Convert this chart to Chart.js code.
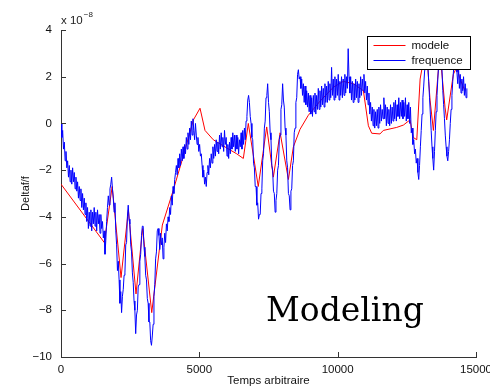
<!DOCTYPE html>
<html>
<head>
<meta charset="utf-8">
<script src="https://cdn.jsdelivr.net/npm/chart.js@4"></script>
<style>
html, body { margin: 0; padding: 0; background: #fff; }
</style>
</head>
<body>
<canvas id="mychart" width="490" height="388"></canvas>
<script>
// time step of the measured series (arbitrary units)
var tStep = 30;

// measured "frequence" series, x 1e-8, one value every tStep (10 per row = 300 units)
var frequence = [
  0.0, -0.6, -0.3, -1.1, -0.8, -1.6, -1.2, -1.9, -1.6, -2.3,
  -1.8, -2.5, -2.0, -2.6, -1.9, -2.5, -2.1, -2.8, -2.3, -2.9,
  -2.5, -3.2, -2.7, -3.3, -2.8, -3.6, -3.0, -3.7, -3.2, -3.9,
  -3.4, -4.2, -3.6, -4.5, -3.8, -4.4, -3.7, -4.6, -3.8, -4.3,
  -3.6, -4.4, -3.8, -4.6, -3.7, -4.3, -3.9, -4.7, -3.9, -4.5,
  -4.2, -4.9, -4.6, -5.6, -5.0, -4.2, -3.6, -3.1, -3.5, -2.8,
  -2.6, -2.3, -2.8, -3.2, -3.8, -3.4, -4.6, -5.2, -6.3, -5.9,
  -6.7, -7.7, -7.2, -8.1, -7.4, -7.1, -6.5, -6.4, -5.2, -5.1,
  -4.0, -3.5, -4.1, -4.3, -5.2, -5.5, -6.4, -6.8, -7.6, -8.0,
  -9.0, -8.2, -8.0, -7.0, -6.9, -5.9, -5.6, -4.8, -4.4, -4.4,
  -5.3, -5.7, -6.5, -6.7, -7.5, -7.7, -8.5, -8.5, -9.3, -9.5,
  -9.1, -8.6, -7.4, -6.9, -5.8, -5.5, -4.6, -4.5, -4.8, -5.4,
  -4.7, -5.2, -4.9, -5.8, -5.3, -4.7, -5.1, -4.3, -4.6, -4.0,
  -4.2, -3.6, -3.9, -3.1, -3.5, -2.7, -3.0, -2.4, -2.1, -1.8,
  -2.2, -1.5, -1.9, -1.3, -1.8, -1.1, -1.6, -1.0, -1.5, -0.9,
  -1.3, -0.6, -1.1, -0.4, -0.9, -0.2, -0.7, 0.1, -0.5, 0.2,
  -0.3, -0.7, 0.0, -0.5, -0.9, -0.6, -1.2, -0.9, -1.4, -1.3,
  -1.8, -2.3, -2.0, -2.6, -2.3, -2.7, -2.1, -1.8, -2.2, -1.5,
  -1.9, -1.3, -1.7, -1.0, -1.5, -0.9, -1.4, -0.7, -1.2, -0.8,
  -1.3, -0.5, -1.1, -0.4, -1.0, -0.6, -1.2, -0.3, -0.9, -0.6,
  -1.4, -0.9, -1.5, -0.8, -1.3, -0.6, -1.1, -0.4, -1.0, -0.5,
  -1.2, -0.5, -1.1, -0.6, -1.3, -0.7, -1.0, -0.4, -1.1, -0.3,
  -0.9, -0.2, -0.7, 0.1, 0.3, 1.0, 1.2, 0.9, 0.3, 0.0,
  -0.6, -0.7, -1.7, -1.9, -2.7, -2.7, -3.5, -3.4, -4.1, -3.9,
  -3.9, -3.0, -2.8, -1.6, -1.3, -0.2, 0.1, 1.1, 1.2, 1.7,
  0.9, 0.5, -0.4, -0.7, -1.8, -2.0, -2.9, -3.0, -3.8, -3.3,
  -3.0, -2.0, -1.8, -0.7, -0.5, 0.6, 0.8, 1.7, 1.0, 0.7,
  -0.2, -0.5, -1.6, -1.9, -3.0, -3.1, -3.7, -2.9, -2.8, -1.8,
  -1.6, -0.4, -0.2, 0.9, 1.1, 2.1, 2.3, 1.9, 2.0, 1.5,
  1.9, 1.2, 1.7, 0.9, 1.6, 0.8, 1.4, 0.7, 1.3, 0.5,
  1.2, 0.4, 1.1, 0.3, 1.2, 0.5, 1.3, 0.4, 1.2, 0.6,
  1.5, 0.6, 1.4, 0.7, 1.6, 0.8, 1.5, 0.7, 1.7, 0.9,
  1.6, 0.9, 1.8, 1.0, 1.7, 1.1, 2.4, 1.2, 1.9, 1.0,
  2.0, 1.1, 1.9, 1.2, 2.1, 1.0, 1.8, 1.2, 2.0, 1.1,
  1.9, 1.2, 2.1, 1.3, 2.0, 1.5, 3.2, 2.0, 1.3, 2.0,
  1.0, 1.8, 0.9, 1.7, 1.0, 1.9, 1.1, 1.8, 0.9, 1.7,
  1.1, 2.0, 1.2, 1.9, 1.4, 2.1, 1.3, 1.8, 1.0, 1.6,
  0.8, 1.3, 0.4, 0.9, 0.1, 0.7, -0.1, 0.6, -0.2, 0.5,
  -0.1, 0.6, -0.2, 0.7, 0.0, 0.8, 0.1, 0.6, 0.2, 1.1,
  0.2, 0.8, -0.1, 0.7, 0.0, 0.6, -0.1, 0.8, 0.0, 0.7,
  0.1, 0.9, 0.2, 1.0, 0.1, 0.8, 0.3, 1.1, 0.2, 0.9,
  0.3, 1.0, 0.2, 0.9, 0.3, 1.1, 0.1, 0.8, 0.2, 0.9,
  0.0, 0.7, -0.4, -0.2, -0.9, -0.7, -1.3, -1.1, -1.7, -1.5,
  -2.1, -2.4, -1.8, -1.0, -0.3, 0.4, 1.1, 1.6, 2.2, 2.5,
  2.9, 3.1, 2.5, 1.8, 1.1, 0.4, -0.3, -1.0, -1.5, -2.0,
  -1.2, -0.3, 0.5, 1.2, 1.9, 2.5, 2.9, 3.2, 2.8, 2.3,
  1.4, 0.8, 0.2, -0.5, -1.0, -1.4, -1.6, -1.2, -0.7, 0.0,
  0.6, 1.2, 1.8, 2.3, 2.7, 2.5, 2.9, 2.2, 1.7, 2.4,
  1.5, 2.1, 1.3, 1.9, 1.4, 2.0, 1.2, 1.7, 1.1, 1.5
];

// "modele" series: times and values (x 1e-8)
var modeleT = [0, 1565, 1850, 2170, 2435, 2711, 2950, 3280, 3663, 4060,
  4420, 4785, 5025, 5205, 5505, 5990, 6350, 6590, 6770, 7130,
  7435, 7675, 7920, 8220, 8400, 8640, 8940, 9360, 9845, 10205,
  10570, 10930, 11110, 11230, 11530, 11650, 12135, 12375, 12615, 12735,
  12860, 12980, 13100, 13220, 13340, 13460, 13640, 13700, 13880, 13940,
  14180, 14300, 14425, 14600];
var modeleV = [-2.6, -5.1, -2.7, -6.6, -3.7, -7.3, -4.5, -8.1, -4.35, -2.85,
  -1.4, 0.15, 0.65, -0.3, -0.7, -1.05, -1.3, -1.5, 0.0, -2.7,
  -0.15, -2.3, -0.4, -2.4, -1.0, -0.25, 0.35, 0.95, 1.55, 1.8,
  1.7, 1.4, -0.1, -0.42, -0.45, -0.3, -0.17, -0.07, 0.15, -0.6,
  -0.7, 1.9, 2.7, 3.0, 1.0, -0.3, 2.3, 3.0, 0.7, 0.15,
  2.1, 2.4, 1.9, 1.4];

var seriesNames = ["modele", "frequence"];
var seriesColors = ["#ff0000", "#0000ff"];
var xTicks = [0, 5000, 10000, 15000];
var yTicks = [-10, -8, -6, -4, -2, 0, 2, 4];
var yExponent = "-8";

var freqPts = [];
for (var i = 0; i < frequence.length; i++) {
  freqPts.push({ x: i * tStep, y: frequence[i] });
}
var modelePts = [];
for (var j = 0; j < modeleT.length; j++) {
  modelePts.push({ x: modeleT[j], y: modeleV[j] });
}

var sansFont = "'Liberation Sans', Arial, Helvetica, sans-serif";

// inward ticks, legend box, exponent and the big caption
var extras = {
  id: 'extras',
  afterDatasetsDraw: function(chart) {
    var ctx = chart.ctx, a = chart.chartArea;
    var xs = chart.scales.x, ys = chart.scales.y;
    ctx.save();
    ctx.strokeStyle = '#333';
    ctx.lineWidth = 1;
    ctx.beginPath();
    xTicks.forEach(function(v) {
      var px = Math.round(xs.getPixelForValue(v)) + 0.5;
      ctx.moveTo(px, a.bottom);
      ctx.lineTo(px, a.bottom - 5);
    });
    yTicks.forEach(function(v) {
      var py = Math.round(ys.getPixelForValue(v)) + 0.5;
      ctx.moveTo(a.left, py);
      ctx.lineTo(a.left + 5, py);
    });
    ctx.stroke();

    // legend
    var bw = 103, bh = 33;
    var bx = Math.round(a.right - 6 - bw) + 0.5, by = Math.round(a.top + 6) + 0.5;
    ctx.fillStyle = '#fff';
    ctx.fillRect(bx, by, bw, bh);
    ctx.strokeStyle = '#000';
    ctx.strokeRect(bx, by, bw, bh);
    ctx.font = '11.5px ' + sansFont;
    ctx.textBaseline = 'middle';
    for (var k = 0; k < seriesNames.length; k++) {
      var ly = by + 9 + k * 15;
      ctx.strokeStyle = seriesColors[k];
      ctx.beginPath();
      ctx.moveTo(bx + 6, ly);
      ctx.lineTo(bx + 38, ly);
      ctx.stroke();
      ctx.fillStyle = '#111';
      ctx.fillText(seriesNames[k], bx + 44, ly);
    }

    // exponent label
    ctx.fillStyle = '#222';
    ctx.textBaseline = 'alphabetic';
    ctx.font = '11.5px ' + sansFont;
    ctx.fillText('x 10', a.left, a.top - 6);
    var w = ctx.measureText('x 10').width;
    ctx.font = '8px ' + sansFont;
    ctx.fillText(yExponent.replace('-', '\u2212'), a.left + w + 1, a.top - 13);

    // caption
    ctx.fillStyle = '#000';
    ctx.font = '33px "DejaVu Serif", serif';
    ctx.fillText('Modeling', 266, 321);
    ctx.restore();
  }
};

var ctx = document.getElementById("mychart");
var myChart = new Chart(ctx, {
  type: 'line',
  data: {
    datasets: [
      {
        label: seriesNames[0],
        data: modelePts,
        borderColor: seriesColors[0],
        borderWidth: 1,
        pointRadius: 0,
        tension: 0,
        order: 1
      },
      {
        label: seriesNames[1],
        data: freqPts,
        borderColor: seriesColors[1],
        borderWidth: 1,
        pointRadius: 0,
        tension: 0,
        order: 0
      }
    ]
  },
  options: {
    responsive: false,
    animation: false,
    devicePixelRatio: 1,
    layout: { padding: { top: 30, right: 14, left: 0, bottom: 0 } },
    plugins: {
      legend: { display: false },
      tooltip: { enabled: false }
    },
    scales: {
      x: {
        type: 'linear',
        min: 0,
        max: 15000,
        afterBuildTicks: function(scale) {
          scale.ticks = xTicks.map(function(v) { return { value: v }; });
        },
        afterFit: function(scale) {
          scale.height = 31;
          scale.paddingRight = 0;
          scale.paddingLeft = 0;
        },
        grid: { drawOnChartArea: false, drawTicks: false },
        border: { color: '#333', width: 1 },
        ticks: {
          padding: 6,
          maxRotation: 0,
          autoSkip: false,
          color: '#111',
          font: { family: sansFont, size: 11.5 },
          callback: function(v) { return String(v); }
        },
        title: {
          display: true,
          text: 'Temps arbitraire',
          color: '#111',
          padding: { top: 0, bottom: 0 },
          font: { family: sansFont, size: 11.5 }
        }
      },
      y: {
        min: -10,
        max: 4,
        afterBuildTicks: function(scale) {
          scale.ticks = yTicks.map(function(v) { return { value: v }; });
        },
        afterFit: function(scale) {
          scale.width = 61;
        },
        grid: { drawOnChartArea: false, drawTicks: false },
        border: { color: '#333', width: 1 },
        ticks: {
          padding: 9,
          color: '#111',
          font: { family: sansFont, size: 11.5 },
          callback: function(v) { return v < 0 ? '\u2212' + Math.abs(v) : String(v); }
        },
        title: {
          display: true,
          text: 'Deltaf/f',
          color: '#111',
          padding: { top: 19, bottom: 0 },
          font: { family: sansFont, size: 11 }
        }
      }
    }
  },
  plugins: [extras]
});
</script>
</body>
</html>
